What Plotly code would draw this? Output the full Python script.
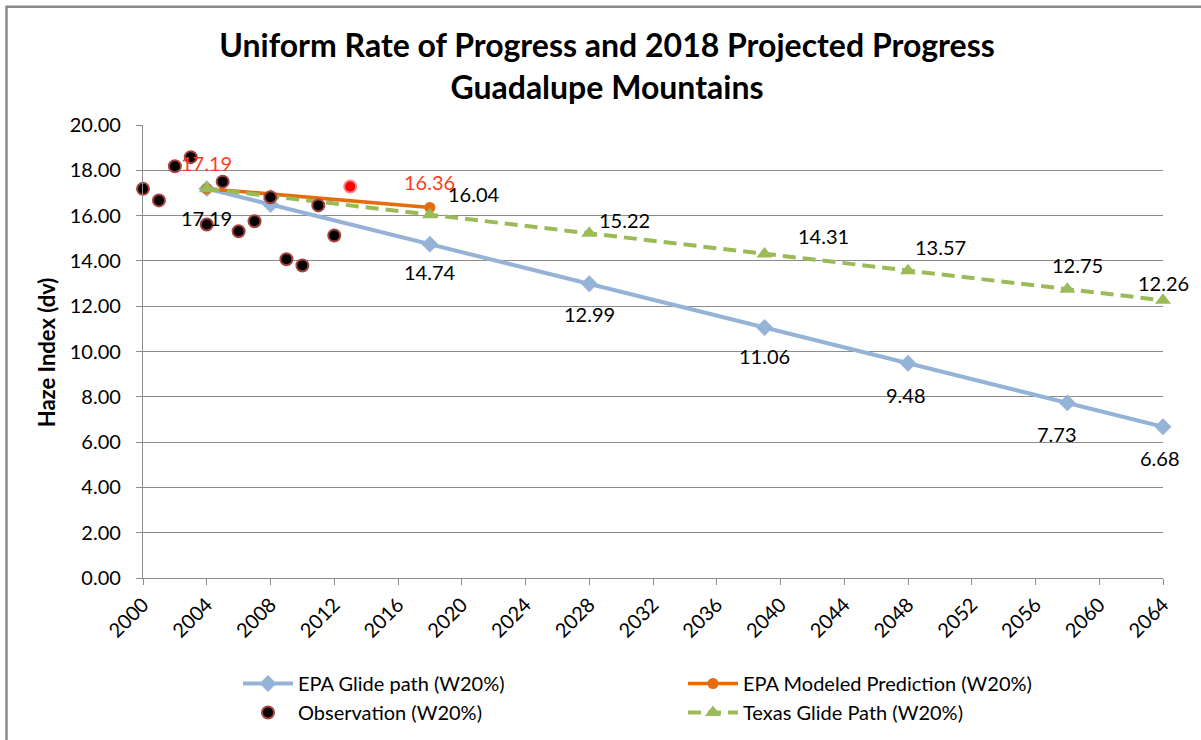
import plotly.graph_objects as go

# ---- data -------------------------------------------------------------
obs_years = [2000, 2001, 2002, 2003, 2004, 2005, 2006, 2007, 2008, 2009, 2010, 2011, 2012, 2013]
obs_values = [17.18, 16.67, 18.18, 18.58, 15.61, 17.50, 15.31, 15.75, 16.81, 14.07, 13.80, 16.45, 15.12, 17.28]

epa_years = [2004, 2008, 2018, 2028, 2039, 2048, 2058, 2064]
epa_values = [17.19, 16.49, 14.74, 12.99, 11.06, 9.48, 7.73, 6.68]

model_years = [2004, 2018]
model_values = [17.19, 16.36]

texas_years = [2004, 2008, 2018, 2028, 2039, 2048, 2058, 2064]
texas_values = [17.19, 16.86, 16.04, 15.22, 14.31, 13.57, 12.75, 12.26]

y_ticks = [0, 2, 4, 6, 8, 10, 12, 14, 16, 18, 20]
x_ticks = list(range(2000, 2065, 4))

# ---- styling ------------------------------------------------------------
FONT = "Lato"
BLUE = "#95B3D7"
ORANGE = "#E46C0A"
GREEN = "#9BBB59"
LABEL_RED = "#FF3B1A"
GRID = "#8C8C8C"

# pixel offsets (dx, dy; dy positive = down) of value labels, None = no label
epa_label_offsets = [(0, 29), None, (0, 28), (0, 30), (0, 29), (-2, 32), (-10, 31), (-3, 31)]
texas_label_offsets = [None, None, (44, -21), (35, -13), (59, -18), (32, -24), (10, -24), (0, -17)]
model_label_offsets = [(0, -26), (0, -25)]

# plot-area geometry in pixels
W, H = 1201, 740
L, R, T, B = 143, 1163, 124.5, 578


def px_x(px):
    return (px - L) / (R - L)


def px_y(py):
    return (B - py) / (B - T)


fig = go.Figure()

fig.add_trace(go.Scatter(
    x=epa_years, y=epa_values, mode="lines+markers", name="EPA Glide path (W20%)",
    line=dict(color=BLUE, width=4),
    marker=dict(symbol="diamond", size=13, color=BLUE),
    legendrank=1, cliponaxis=False,
))
fig.add_trace(go.Scatter(
    x=model_years, y=model_values, mode="lines+markers", name="EPA Modeled Prediction (W20%)",
    line=dict(color=ORANGE, width=3.5),
    marker=dict(symbol="circle", size=11, color=ORANGE),
    legendrank=2, cliponaxis=False,
))
fig.add_trace(go.Scatter(
    x=texas_years, y=texas_values, mode="lines+markers", name="Texas Glide Path (W20%)",
    line=dict(color=GREEN, width=4, dash="13px,7px"),
    marker=dict(symbol="triangle-up", size=14, color=GREEN),
    legendrank=4, cliponaxis=False,
))
obs_colors = ["black"] * (len(obs_values) - 1) + ["#FF0000"]
obs_lines = ["#A8423E"] * (len(obs_values) - 1) + ["#FF8080"]
fig.add_trace(go.Scatter(
    x=obs_years, y=obs_values, mode="markers", name="Observation (W20%)",
    marker=dict(symbol="circle", size=12, color=obs_colors,
                line=dict(color=obs_lines, width=2)),
    legendrank=3, cliponaxis=False,
))

annotations = []


def add_labels(xs, ys, offsets, color):
    for xv, yv, off in zip(xs, ys, offsets):
        if off is None:
            continue
        annotations.append(dict(
            x=xv, y=yv, xref="x", yref="y", text=f"{yv:.2f}", showarrow=False,
            xanchor="center", yanchor="middle",
            xshift=off[0], yshift=-off[1],
            font=dict(family=FONT, size=20, color=color),
        ))


add_labels(epa_years, epa_values, epa_label_offsets, "black")
add_labels(texas_years, texas_values, texas_label_offsets, "black")
add_labels(model_years, model_values, model_label_offsets, LABEL_RED)

# y-axis title
annotations.append(dict(
    x=px_x(46), y=px_y(352), xref="paper", yref="paper", text="<b>Haze Index (dv)</b>",
    xanchor="center", yanchor="middle",
    textangle=-90, showarrow=False, font=dict(family=FONT, size=22, color="black"),
))

# chart frame (top and left edges)
shapes = [
    dict(type="line", xref="paper", yref="paper", x0=px_x(6), x1=px_x(1205),
         y0=px_y(6), y1=px_y(6), line=dict(color="#8A8A8A", width=2.5)),
    dict(type="line", xref="paper", yref="paper", x0=px_x(6.5), x1=px_x(6.5),
         y0=px_y(5), y1=px_y(745), line=dict(color="#8A8A8A", width=2.5)),
]

fig.update_layout(
    width=W, height=H,
    margin=dict(l=L, r=W - R, t=T, b=H - B),
    paper_bgcolor="white", plot_bgcolor="white",
    font=dict(family=FONT, size=20, color="black"),
    title=dict(
        text="<b>Uniform Rate of Progress and 2018 Projected Progress<br>Guadalupe Mountains</b>",
        x=px_x(607), xref="paper", xanchor="center",
        y=1 - 57 / H, yref="container", yanchor="middle",
        font=dict(family=FONT, size=32, color="black"),
    ),
    xaxis=dict(
        range=[2000, 2064], tickvals=x_ticks, tickangle=-45,
        showgrid=False, zeroline=False,
        showline=True, linecolor=GRID, linewidth=1.3,
        ticks="outside", ticklen=6, tickcolor=GRID,
        tickfont=dict(family=FONT, size=20),
    ),
    yaxis=dict(
        range=[0, 20], tickvals=y_ticks, tickformat=".2f",
        showgrid=True, gridcolor=GRID, gridwidth=1.2, zeroline=False,
        showline=True, linecolor=GRID, linewidth=1.3,
        ticks="outside", ticklen=6, tickcolor=GRID, ticklabelstandoff=11,
        tickfont=dict(family=FONT, size=20),
    ),
    legend=dict(
        orientation="h", x=238 / W, xref="container", y=1 - 664 / H, yref="container",
        xanchor="left", yanchor="top",
        entrywidth=380, entrywidthmode="pixels", itemwidth=50,
        font=dict(family=FONT, size=20), traceorder="normal",
        bgcolor="rgba(0,0,0,0)",
    ),
    annotations=annotations,
    shapes=shapes,
    showlegend=True,
)

fig.write_html("out.html")
